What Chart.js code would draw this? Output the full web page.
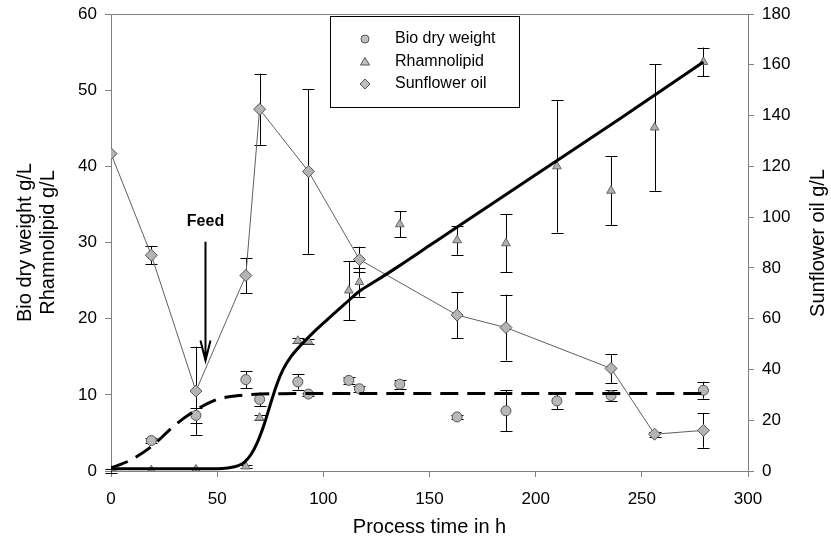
<!DOCTYPE html>
<html>
<head>
<meta charset="utf-8">
<script src="https://cdn.jsdelivr.net/npm/chart.js@4.4.1/dist/chart.umd.min.js"></script>
<style>
  body { margin: 0; background: #fff; }
  #wrap { width: 831px; height: 547px; }
</style>
</head>
<body>
<div id="wrap"><canvas id="chart" width="831" height="547"></canvas></div>
<script>
// measured points (process time in h)
const bioTime = [0, 19, 40, 63.5, 70, 88, 93, 112, 117, 136, 163, 186, 210, 235.5, 279];
const bioWeight = [0, 4.0, 7.3, 12.0, 9.4, 11.7, 10.1, 11.9, 10.8, 11.4, 7.1, 7.9, 9.2, 9.9, 10.6];
const bioErr = [0.2, 0.3, 1.0, 1.1, 0.9, 1.0, 0.2, 0.5, 0.4, 0.6, 0.3, 2.7, 1.1, 0.7, 1.1];

const rhamnoTime = [0, 19, 40, 63.5, 70, 88, 93, 112, 117, 136, 163, 186, 210, 235.5, 256, 279];
const rhamnolipid = [0, 0.1, 0.2, 0.6, 7.0, 17.1, 17.0, 23.7, 24.8, 32.4, 30.3, 29.9, 40.0, 36.8, 45.1, 53.7];
const rhamnoErr = [0, 0, 0, 0.2, 0.3, 0.3, 0.3, 3.9, 1.9, 1.7, 1.9, 3.8, 8.7, 4.5, 8.3, 1.9];

const oilTime = [0, 19, 40, 63.5, 70, 93, 117, 163, 186, 235.5, 256, 279];
const sunflowerOil = [125, 85, 31.5, 77, 142.5, 118, 83.3, 61.4, 56.5, 40.4, 14.5, 16];
const oilErr = [0, 3.5, 17.5, 7, 14, 32.5, 5, 9, 13, 5.7, 1, 6.8];

// fitted curves
const bioFitTime = [0, 9, 19, 30, 40, 50, 60, 70, 80, 100, 150, 200, 250, 279];
const bioFit = [0.4, 1.4, 3.2, 6.0, 8.0, 9.4, 9.9, 10.1, 10.15, 10.17, 10.17, 10.17, 10.17, 10.17];

const rhamnoFitTime = [0, 20, 40, 50, 55, 60, 63, 66, 69, 72, 75, 78, 81, 85, 89, 95, 102, 110, 117, 125, 135, 150, 165, 200, 240, 279];
const rhamnoFit = [0.3, 0.3, 0.3, 0.3, 0.4, 0.7, 1.2, 2.2, 3.8, 6.0, 8.7, 11.3, 13.3, 15.1, 16.4, 18.1, 19.9, 21.9, 23.6, 25.0, 26.8, 29.6, 32.4, 38.9, 46.3, 53.7];

// tick setup
const xTicks = { min: 0, max: 300, step: 50 };
const leftTicks = { min: 0, max: 60, step: 10 };
const rightTicks = { min: 0, max: 180, step: 20 };

const toPoints = (xs, ys) => xs.map((x, i) => ({ x: x, y: ys[i] }));

const FONT = "'Liberation Sans', Arial, sans-serif";

// draws the vertical error bars under the markers
const errorBars = {
  id: "errorBars",
  beforeDatasetsDraw(chart) {
    const ctx = chart.ctx;
    ctx.save();
    ctx.strokeStyle = "#000";
    ctx.lineWidth = 1;
    chart.data.datasets.forEach((ds) => {
      if (!ds.errors) return;
      const yScale = chart.scales[ds.yAxisID];
      const xScale = chart.scales.x;
      ds.data.forEach((p, i) => {
        const e = ds.errors[i];
        if (!e) return;
        const px = Math.round(xScale.getPixelForValue(p.x)) + 0.5;
        const top = yScale.getPixelForValue(p.y + e);
        const bot = yScale.getPixelForValue(p.y - e);
        ctx.beginPath();
        ctx.moveTo(px, top);
        ctx.lineTo(px, bot);
        ctx.moveTo(px - 6, Math.round(top) + 0.5);
        ctx.lineTo(px + 6, Math.round(top) + 0.5);
        ctx.moveTo(px - 6, Math.round(bot) + 0.5);
        ctx.lineTo(px + 6, Math.round(bot) + 0.5);
        ctx.stroke();
      });
    });
    ctx.restore();
  },
};

// frame top line, feed arrow, legend box, right title
const extras = {
  id: "extras",
  afterDraw(chart) {
    const ctx = chart.ctx;
    const area = chart.chartArea;
    const x = chart.scales.x;
    const y = chart.scales.y;
    ctx.save();

    ctx.strokeStyle = "#808080";
    ctx.lineWidth = 1;
    ctx.beginPath();
    ctx.moveTo(area.left, Math.round(area.top) + 0.5);
    ctx.lineTo(area.right, Math.round(area.top) + 0.5);
    ctx.stroke();

    // feed arrow
    const fx = x.getPixelForValue(44.5);
    ctx.fillStyle = "#000";
    ctx.font = "bold 16px " + FONT;
    ctx.textAlign = "center";
    ctx.textBaseline = "middle";
    ctx.fillText("Feed", fx, y.getPixelForValue(32.8));
    const aTop = y.getPixelForValue(30.1);
    const aBot = y.getPixelForValue(14.5);
    ctx.strokeStyle = "#000";
    ctx.lineWidth = 2;
    ctx.beginPath();
    ctx.moveTo(fx, aTop);
    ctx.lineTo(fx, aBot);
    ctx.moveTo(fx - 5, aBot - 20);
    ctx.lineTo(fx, aBot);
    ctx.lineTo(fx + 5, aBot - 20);
    ctx.stroke();

    // legend
    ctx.lineWidth = 1;
    ctx.strokeRect(330.5, 16.5, 189, 91);
    const items = [
      ["circle", "Bio dry weight"],
      ["triangle", "Rhamnolipid"],
      ["rectRot", "Sunflower oil"],
    ];
    ctx.font = "16px " + FONT;
    ctx.textAlign = "left";
    items.forEach((it, i) => {
      const ly = 39 + i * 22.5;
      ctx.fillStyle = "#c0c0c0";
      ctx.strokeStyle = "#555";
      ctx.lineWidth = 1;
      ctx.beginPath();
      if (it[0] === "circle") {
        ctx.arc(365, ly, 4, 0, Math.PI * 2);
      } else if (it[0] === "triangle") {
        ctx.moveTo(365, ly - 4);
        ctx.lineTo(369.5, ly + 3.5);
        ctx.lineTo(360.5, ly + 3.5);
        ctx.closePath();
      } else {
        ctx.moveTo(365, ly - 5);
        ctx.lineTo(370, ly);
        ctx.lineTo(365, ly + 5);
        ctx.lineTo(360, ly);
        ctx.closePath();
      }
      ctx.fill();
      ctx.stroke();
      ctx.fillStyle = "#000";
      ctx.fillText(it[1], 395, ly);
    });

    // right axis title, reads bottom to top like the left one
    ctx.translate(818, 243);
    ctx.rotate(-Math.PI / 2);
    ctx.font = "20px " + FONT;
    ctx.textAlign = "center";
    ctx.fillText("Sunflower oil g/L", 0, 0);
    ctx.restore();
  },
};

const data = {
  datasets: [
    {
      label: "Bio dry weight fit",
      data: toPoints(bioFitTime, bioFit),
      yAxisID: "y",
      borderColor: "#000",
      borderWidth: 3,
      borderDash: [18, 9],
      pointRadius: 0,
      cubicInterpolationMode: "monotone",
      showLine: true,
      order: 1,
    },
    {
      label: "Rhamnolipid fit",
      data: toPoints(rhamnoFitTime, rhamnoFit),
      yAxisID: "y",
      borderColor: "#000",
      borderWidth: 3,
      pointRadius: 0,
      cubicInterpolationMode: "monotone",
      showLine: true,
      order: 2,
    },
    {
      label: "Sunflower oil",
      data: toPoints(oilTime, sunflowerOil),
      errors: oilErr,
      yAxisID: "y2",
      borderColor: "#606060",
      borderWidth: 1,
      pointStyle: "rectRot",
      pointRadius: 6,
      pointBackgroundColor: "#b4b4b4",
      pointBorderColor: "#555",
      pointBorderWidth: 1,
      showLine: true,
      order: 3,
    },
    {
      label: "Rhamnolipid",
      data: toPoints(rhamnoTime, rhamnolipid),
      errors: rhamnoErr,
      yAxisID: "y",
      pointStyle: "triangle",
      pointRadius: 5,
      pointBackgroundColor: "#b0b0b0",
      pointBorderColor: "#666",
      pointBorderWidth: 1,
      showLine: false,
      order: 4,
    },
    {
      label: "Bio dry weight",
      data: toPoints(bioTime, bioWeight),
      errors: bioErr,
      yAxisID: "y",
      pointStyle: "circle",
      pointRadius: 5,
      pointBackgroundColor: "#b8b8b8",
      pointBorderColor: "#555",
      pointBorderWidth: 1,
      showLine: false,
      order: 5,
    },
  ],
};

const tickFont = { family: FONT, size: 17 };

// fixed box sizes so the plot area sits where the original has it
const fixWidth = (w) => (s) => {
  s.width = w;
  s.paddingTop = 0;
  s.paddingBottom = 0;
};

const config = {
  type: "scatter",
  data: data,
  options: {
    responsive: false,
    animation: false,
    layout: { padding: { top: 14, left: 0, right: 0, bottom: 0 } },
    plugins: {
      legend: { display: false },
      tooltip: { enabled: false },
    },
    scales: {
      x: {
        type: "linear",
        min: xTicks.min,
        max: xTicks.max,
        ticks: { stepSize: xTicks.step, color: "#000", font: tickFont, padding: 12 },
        grid: { drawOnChartArea: false, color: "#808080", tickLength: 6 },
        border: { color: "#808080" },
        title: {
          display: true,
          text: "Process time in h",
          color: "#000",
          font: { family: FONT, size: 20 },
          padding: { top: 4, bottom: 8 },
        },
        afterFit: (s) => {
          s.height = 76;
          s.paddingLeft = 0;
          s.paddingRight = 0;
        },
      },
      y: {
        position: "left",
        min: leftTicks.min,
        max: leftTicks.max,
        ticks: { stepSize: leftTicks.step, color: "#000", font: tickFont, padding: 8 },
        grid: { drawOnChartArea: false, color: "#808080", tickLength: 6 },
        border: { color: "#808080" },
        title: {
          display: true,
          text: ["Bio dry weight g/L", "Rhamnolipid g/L"],
          color: "#000",
          font: { family: FONT, size: 20, lineHeight: 1.15 },
          padding: { top: 14, bottom: 4 },
        },
        afterFit: fixWidth(111),
      },
      y2: {
        position: "right",
        min: rightTicks.min,
        max: rightTicks.max,
        ticks: { stepSize: rightTicks.step, color: "#000", font: tickFont, padding: 8 },
        grid: { drawOnChartArea: false, color: "#808080", tickLength: 6 },
        border: { color: "#808080" },
        afterFit: fixWidth(83),
      },
    },
  },
  plugins: [errorBars, extras],
};

const myChart = new Chart(document.getElementById("chart"), config);
</script>
</body>
</html>
